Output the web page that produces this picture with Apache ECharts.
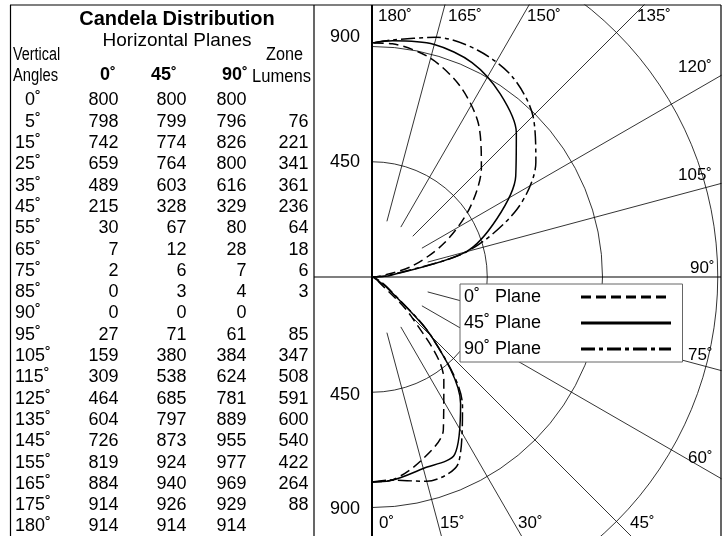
<!DOCTYPE html>
<html><head><meta charset="utf-8">
<script src="https://cdn.jsdelivr.net/npm/echarts@6/dist/echarts.min.js"></script>
<style>html,body{margin:0;padding:0;background:#fff}#c{width:724px;height:536px}</style>
</head><body><div id="c"></div>
<script>
// ---- data ----
const vAngles    = [0,5,15,25,35,45,55,65,75,85,90,95,105,115,125,135,145,155,165,175,180];
const plane0     = [800,798,742,659,489,215,30,7,2,0,0,27,159,309,464,604,726,819,884,914,914];
const plane45    = [800,799,774,764,603,328,67,12,6,3,0,71,380,538,685,797,873,924,940,926,914];
const plane90    = [800,796,826,800,616,329,80,28,7,4,0,61,384,624,781,889,955,977,969,929,914];
const zoneLumens = [null,76,221,341,361,236,64,18,6,3,null,85,347,508,591,600,540,422,264,88,null];
const planeNames = ['0˚   Plane','45˚ Plane','90˚ Plane'];
const planeHeaders = ['0˚','45˚','90˚'];
const radiusTickLabels = ['900','450','450','900'];
const spokeAngles = [15,30,45,60,75,105,120,135,150,165];
const angleTickLabels = ['180˚','165˚','150˚','135˚','120˚','105˚','90˚','75˚','60˚','0˚','15˚','30˚','45˚'];

// ---- layout (positions / styles) ----
const FF = '"Liberation Sans", Arial, Helvetica, sans-serif';
const CX = 372, CY = 277, RMAX = 1800, RPX = 461, SPOKE_START = 225;
const angleLabelPos = [[378,16],[448,16],[527,16],[637,16],[678,67],[678,175],[690,268],[688,355],[688,458],[379,523],[440,523],[518,523],[630,523]];
const radiusLabelPos = [[345,37],[345,162],[345,395],[345,509]];
const ROW0 = 100.5, ROWH = 21.3;
const colRight = [118.5, 186.5, 246.5, 308.5];

function txt(text, x, y, opt) {
  opt = opt || {};
  return {
    type: 'text', x: x, y: y, z: 30, zlevel: 0,
    scaleX: opt.sx || 1,
    style: {
      text: text, fill: '#000',
      font: (opt.bold ? 'bold ' : '') + (opt.size || 18) + 'px ' + FF,
      align: opt.align || 'left', textAlign: opt.align || 'left',
      verticalAlign: 'middle', textVerticalAlign: 'middle'
    }
  };
}
function ln(x1, y1, x2, y2, w) {
  return { type: 'line', z: 30, shape: {x1, y1, x2, y2}, style: {stroke: '#000', lineWidth: w || 1} };
}

const g = [];
// masks to clip polar grid to the plot frame
g.push({type:'rect', z: 20, shape:{x:0,y:0,width:371,height:536}, style:{fill:'#fff'}});
g.push({type:'rect', z: 20, shape:{x:371,y:0,width:353,height:4.5}, style:{fill:'#fff'}});
g.push({type:'rect', z: 20, shape:{x:721.5,y:0,width:3,height:536}, style:{fill:'#fff'}});
// frame
g.push(ln(10, 5, 721, 5, 1.2));
g.push(ln(10.5, 5, 10.5, 536, 1.2));
g.push(ln(314, 5, 314, 536, 1.2));
g.push(ln(372, 5, 372, 536, 2));
g.push(ln(721, 5, 721, 536, 1.2));
g.push(ln(314, 277, 721, 277, 1.2));
// table headers
g.push(txt('Candela Distribution', 177, 19.5, {bold:true, size:20, align:'center'}));
g.push(txt('Horizontal Planes', 177, 40.5, {size:19, align:'center'}));
g.push(txt('Vertical', 13, 55, {sx:0.8}));
g.push(txt('Angles', 13, 76.5, {sx:0.82}));
g.push(txt('Zone', 303, 55, {sx:0.9, align:'right'}));
g.push(txt('Lumens', 311, 77, {sx:0.92, align:'right'}));
const headerRight = [116, 177, 248];
planeHeaders.forEach((h, i) => g.push(txt(h, headerRight[i], 75, {bold:true, align:'right'})));
// table body
vAngles.forEach((a, i) => {
  const y = ROW0 + i * ROWH;
  g.push(txt(a + '˚', a < 10 ? 25 : 15, y));
  [plane0, plane45, plane90].forEach((arr, k) => g.push(txt(String(arr[i]), colRight[k], y, {align:'right'})));
  if (zoneLumens[i] != null) g.push(txt(String(zoneLumens[i]), colRight[3], y, {align:'right'}));
});
// polar tick labels
angleTickLabels.forEach((t, i) => g.push(txt(t, angleLabelPos[i][0], angleLabelPos[i][1], {size:17})));
radiusTickLabels.forEach((t, i) => g.push(txt(t, radiusLabelPos[i][0], radiusLabelPos[i][1], {align:'center'})));

function curve(name, vals, dash) {
  return {
    type: 'line', name: name, coordinateSystem: 'polar', polarIndex: 0,
    data: vals.map((v, i) => [v, vAngles[i]]),
    symbol: 'none', smooth: 0.3, silent: true, z: 3,
    lineStyle: {color: '#000', width: 1.5, type: dash},
    itemStyle: {color: '#000'}
  };
}
const series = [
  curve(planeNames[0], plane0, [10, 5]),
  curve(planeNames[1], plane45, 'solid'),
  curve(planeNames[2], plane90, [14, 4, 4, 4])
];
spokeAngles.forEach(a => series.push({
  type: 'line', coordinateSystem: 'polar', polarIndex: 0, silent: true, z: 1,
  data: [[SPOKE_START, a], [RMAX, a]], symbol: 'none',
  lineStyle: {color: '#000', width: 0.8}
}));

const chart = echarts.init(document.getElementById('c'), null, {renderer: 'canvas'});
chart.setOption({
  animation: false,
  backgroundColor: '#fff',
  textStyle: {fontFamily: FF},
  polar: {center: [CX, CY], radius: RPX},
  angleAxis: {
    type: 'value', min: 0, max: 360, startAngle: 270, clockwise: false,
    axisLine: {show: false}, axisTick: {show: false}, axisLabel: {show: false}, splitLine: {show: false}
  },
  radiusAxis: {
    type: 'value', min: 0, max: RMAX, interval: 450,
    axisLine: {show: false}, axisTick: {show: false}, axisLabel: {show: false},
    splitLine: {show: true, lineStyle: {color: '#000', width: 0.8}}
  },
  legend: {
    data: planeNames, orient: 'vertical', left: 460, top: 284, align: 'right',
    padding: [4, 10, 4, 4], itemGap: 8, itemWidth: 90, itemHeight: 18,
    backgroundColor: '#fff', borderColor: '#666', borderWidth: 1,
    selectedMode: false, z: 40,
    lineStyle: {width: 3},
    itemStyle: {color: 'rgba(0,0,0,0)', borderColor: 'rgba(0,0,0,0)', borderWidth: 0, opacity: 0},
    formatter: '{t|{name}}',
    textStyle: {fontSize: 18, color: '#000', fontFamily: FF,
      rich: {t: {fontSize: 18, color: '#000', fontFamily: FF, width: 112, align: 'left'}}}
  },
  graphic: {elements: g},
  series: series
});
</script>
</body></html>
